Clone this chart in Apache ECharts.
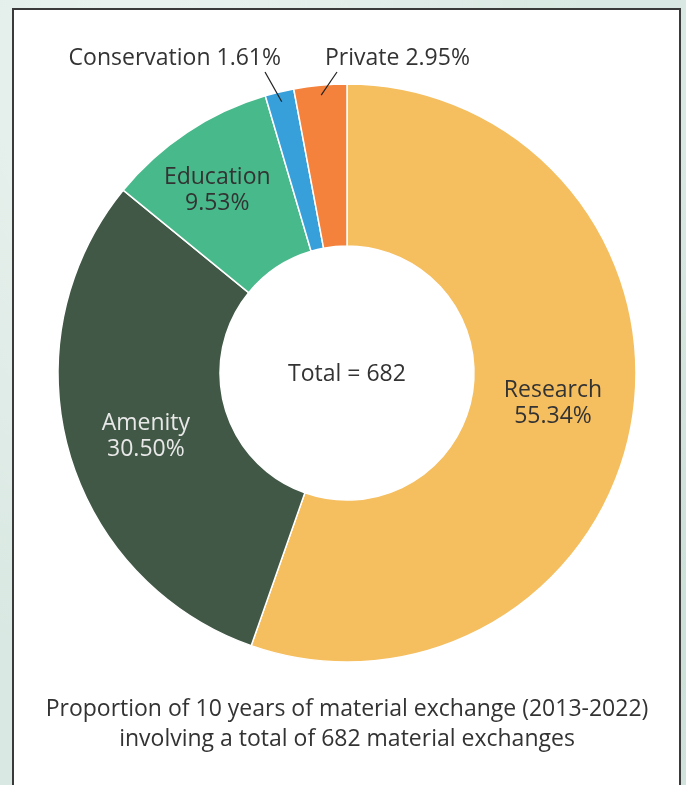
<!DOCTYPE html>
<html>
<head>
<meta charset="utf-8">
<script src="https://cdn.jsdelivr.net/npm/echarts@6/dist/echarts.min.js"></script>
<style>
  html, body { margin: 0; padding: 0; width: 686px; height: 785px; overflow: hidden; }
  body {
    background-color: #d9e8e2;
    background-image:
      radial-gradient(ellipse at 20% 10%, rgba(255,255,255,0.45), rgba(255,255,255,0) 60%),
      radial-gradient(ellipse at 90% 80%, rgba(190,215,205,0.5), rgba(190,215,205,0) 55%);
    position: relative;
  }
  #panel {
    position: absolute; left: 12px; top: 8px; width: 669px; height: 800px;
    background: #ffffff; border: 2px solid #3a3a3a; box-sizing: border-box;
  }
  #chart { position: absolute; left: 0; top: 0; width: 686px; height: 785px; }
</style>
</head>
<body>
<div id="panel"></div>
<div id="chart"></div>
<script>
// Material exchange by purpose, 2013-2022 (share of all exchanges, %)
const categories = ['Research', 'Amenity', 'Education', 'Conservation', 'Private'];
const shares = [55.34, 30.50, 9.53, 1.61, 2.95];
const colors = ['#F5BE5F', '#415846', '#48B98A', '#379FD9', '#F4823C'];
const totalExchanges = 682;
const titleLines = [
  'Proportion of 10 years of material exchange (2013-2022)',
  'involving a total of ' + totalExchanges + ' material exchanges'
];

const FONT = '"Open Sans", "Noto Sans", sans-serif';
const FONT_SIZE = 23;
const TEXT = '#333333';
const CX = 347, CY = 373;
const R_IN = 127, R_OUT = 289;

// slices whose labels sit above the ring, joined by a leader line
const outsideLabels = {
  Conservation: { x: 281, y: 58, align: 'right', tip: [-16, 14] },
  Private: { x: 325, y: 58, align: 'left', tip: [12, 14] }
};
// small nudges for the labels drawn inside the ring
const insideNudge = {
  Research: [-2, -5],
  Amenity: [2, 6],
  Education: [-13, -7]
};

const pct = v => v.toFixed(2) + '%';
const shareSum = shares.reduce((a, b) => a + b, 0);

// point inside the ring at the middle of a slice (start of a leader line)
function slicePoint(index, radius) {
  let before = 0;
  for (let i = 0; i < index; i++) before += shares[i];
  const frac = (before + shares[index] / 2) / shareSum;
  const ang = (90 - frac * 360) * Math.PI / 180;
  return [CX + radius * Math.cos(ang), CY - radius * Math.sin(ang)];
}

const chart = echarts.init(document.getElementById('chart'), null, { renderer: 'canvas' });

const data = categories.map((name, i) => {
  const outside = !!outsideLabels[name];
  return {
    name: name,
    value: shares[i],
    itemStyle: { color: colors[i] },
    label: outside
      ? { position: 'outside', formatter: p => p.name + ' ' + pct(p.value), color: TEXT }
      : { position: 'inside', formatter: p => p.name + '\n' + pct(p.value),
          color: name === 'Amenity' ? '#e8e8e8' : TEXT },
    labelLine: { show: false }
  };
});

// leader lines from the thin slices up to their labels
const leaderLines = categories
  .map((name, i) => ({ name, i }))
  .filter(d => outsideLabels[d.name])
  .map(d => {
    const out = outsideLabels[d.name];
    return {
      type: 'polyline',
      z: 10,
      shape: { points: [slicePoint(d.i, R_OUT - 10), [out.x + out.tip[0], out.y + out.tip[1]]] },
      style: { stroke: '#222222', lineWidth: 1.2, fill: null }
    };
  });

chart.setOption({
  backgroundColor: 'transparent',
  animation: false,
  graphic: [
    {
      type: 'text',
      x: CX, y: CY + 1,
      style: {
        text: 'Total = ' + totalExchanges,
        fontFamily: FONT, fontSize: FONT_SIZE, fill: TEXT,
        align: 'center', verticalAlign: 'middle'
      }
    },
    {
      type: 'text',
      x: CX, y: 724.5,
      style: {
        text: titleLines.join('\n'),
        fontFamily: FONT, fontSize: FONT_SIZE, lineHeight: 30, fill: TEXT,
        align: 'center', verticalAlign: 'middle'
      }
    }
  ].concat(leaderLines),
  series: [{
    type: 'pie',
    center: [CX, CY],
    radius: [R_IN, R_OUT],
    startAngle: 90,
    clockwise: true,
    avoidLabelOverlap: false,
    itemStyle: { borderColor: '#ffffff', borderWidth: 1.5 },
    label: { fontFamily: FONT, fontSize: FONT_SIZE, lineHeight: 26, color: TEXT },
    emphasis: { disabled: true },
    labelLayout: function (p) {
      const name = categories[p.dataIndex];
      const out = outsideLabels[name];
      if (out) {
        return { x: out.x, y: out.y, align: out.align, verticalAlign: 'middle' };
      }
      const n = insideNudge[name] || [0, 0];
      return { dx: n[0], dy: n[1] };
    },
    data: data
  }]
});
</script>
</body>
</html>
